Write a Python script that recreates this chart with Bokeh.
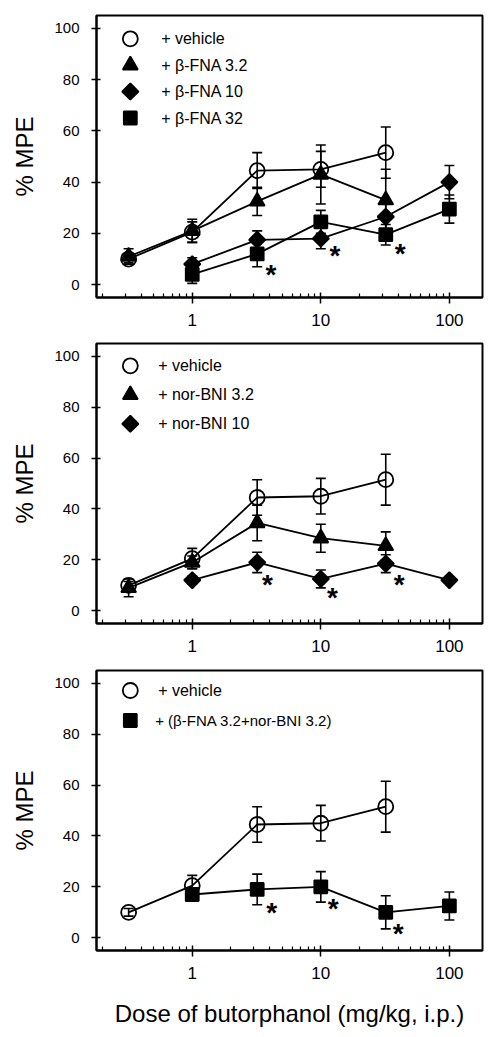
import math
from bokeh.plotting import figure
from bokeh.models import (ColumnDataSource, Whisker, TeeHead,
                          FixedTicker, Range1d, NumeralTickFormatter)
from bokeh.layouts import column
from bokeh.embed import file_html
from bokeh.resources import INLINE
from bokeh.core.properties import value

# ---------------- data ----------------
dose_low = [0.32, 1, 3.2, 10, 32]       # doses of butorphanol, series starting at 0.32
dose_high = [1, 3.2, 10, 32, 100]       # doses of butorphanol, series starting at 1

vehicle_mpe = [10, 20.5, 44.5, 45, 51.5]
vehicle_sem = [1.5, 4, 7, 7, 10]

# panel 1 (beta-FNA)
bfna3_mpe = [11, 21, 32.5, 43, 33]           # + beta-FNA 3.2 (dose_low)
bfna3_sem = [3, 4.5, 5.5, 11.5, 12]
bfna10_mpe = [8, 17.5, 18, 26.5, 40]         # + beta-FNA 10 (dose_high)
bfna10_sem = [2.5, 3.5, 4, 5, 6.5]
bfna32_mpe = [4, 12, 24.5, 19.5, 29.5]       # + beta-FNA 32 (dose_high)
bfna32_sem = [3.5, 5, 4.5, 4, 5.5]
star1_dose = [4.1, 12.9, 41.4]
star1_mpe = [5.9, 13.5, 14.1]

# panel 2 (nor-BNI)
nbni3_mpe = [9, 19, 34.5, 28.5, 25.5]        # + nor-BNI 3.2 (dose_low)
nbni3_sem = [3.5, 2.5, 7, 5.5, 5.5]
nbni10_mpe = [12, 19, 12.5, 18.5, 12]        # + nor-BNI 10 (dose_high)
nbni10_sem = [1.5, 4, 3.5, 3.5, 1]
star2_dose = [3.84, 12.3, 40.7]
star2_mpe = [12.4, 7.2, 12.4]

# panel 3 (combination)
combo_mpe = [17, 19, 20, 10, 12.5]           # + (beta-FNA 3.2 + nor-BNI 3.2) (dose_high)
combo_sem = [2.5, 6, 6, 6.5, 5.5]
star3_dose = [4.15, 12.5, 40]
star3_mpe = [12, 13.6, 3.6]

legend1_labels = ["+ vehicle", "+ β-FNA 3.2", "+ β-FNA 10", "+ β-FNA 32"]
legend2_labels = ["+ vehicle", "+ nor-BNI 3.2", "+ nor-BNI 10"]
legend3_labels = ["+ vehicle", "+ (β-FNA 3.2+nor-BNI 3.2)"]

x_major_ticks = [1, 10, 100]
x_minor_ticks = [0.2, 0.3, 0.4, 0.5, 0.6, 0.7, 0.8, 0.9,
                 2, 3, 4, 5, 6, 7, 8, 9,
                 20, 30, 40, 50, 60, 70, 80, 90]
y_ticks = [0, 20, 40, 60, 80, 100]

FONT = "Liberation Sans"
X0, X1 = 0.18, 181
Y0, Y1 = -5, 105
FRAME_W = 388
LW = 1.8

# marker styles: (marker, size, fill, angle)
ST_CIRCLE = ("circle", 15, None, 0.0)
ST_TRI = ("triangle", 15, "black", 0.0)
ST_DIAM = ("square", 11.5, "black", math.pi / 4)
ST_SQ = ("square", 13, "black", 0.0)


def make_fig(height, top, bottom, left, right, xlabel=None):
    p = figure(width=left + FRAME_W + right, height=height, x_axis_type="log",
               x_range=Range1d(X0, X1), y_range=Range1d(Y0, Y1),
               output_backend="svg", toolbar_location=None,
               min_border_top=top, min_border_bottom=bottom,
               min_border_left=left, min_border_right=right,
               background_fill_color="white", border_fill_color="white")
    p.grid.visible = False
    p.outline_line_color = "black"
    p.outline_line_width = 2
    p.outline_line_alpha = 1

    xa = p.xaxis[0]
    xa.ticker = FixedTicker(ticks=x_major_ticks, minor_ticks=x_minor_ticks)
    xa.formatter = NumeralTickFormatter(format="0")
    xa.axis_line_width = 2
    xa.major_tick_line_width = 1.5
    xa.major_tick_in = 5
    xa.major_tick_out = 6
    xa.minor_tick_in = 4
    xa.minor_tick_out = 0
    xa.minor_tick_line_width = 1.2
    xa.major_label_text_font = FONT
    xa.major_label_text_font_size = "17px"
    xa.major_label_text_color = "black"
    xa.major_label_standoff = 10
    if xlabel:
        xa.axis_label = xlabel
        xa.axis_label_text_font = FONT
        xa.axis_label_text_font_size = "24px"
        xa.axis_label_text_font_style = "normal"
        xa.axis_label_text_color = "black"
        xa.axis_label_standoff = 18

    ya = p.yaxis[0]
    ya.ticker = FixedTicker(ticks=y_ticks, minor_ticks=[])
    ya.axis_line_width = 2
    ya.major_tick_line_width = 1.5
    ya.major_tick_in = 4
    ya.major_tick_out = 5
    ya.minor_tick_line_color = None
    ya.major_label_text_font = FONT
    ya.major_label_text_font_size = "15px"
    ya.major_label_text_color = "black"
    ya.major_label_standoff = 12
    ya.axis_label = "% MPE"
    ya.axis_label_text_font = FONT
    ya.axis_label_text_font_size = "24px"
    ya.axis_label_text_font_style = "normal"
    ya.axis_label_text_color = "black"
    ya.axis_label_standoff = 13
    return p


def scatter_style(p, x, y, style):
    marker, size, fill, angle = style
    return p.scatter(x, y, marker=marker, size=size, fill_color=fill,
                     line_color="black", line_width=LW, angle=angle)


def add_series(p, dose, mpe, sem, style):
    src = ColumnDataSource(dict(
        x=dose, y=mpe,
        upper=[m + s for m, s in zip(mpe, sem)],
        lower=[m - s for m, s in zip(mpe, sem)]))
    w = Whisker(base="x", upper="upper", lower="lower", source=src,
                line_color="black", line_width=1.6,
                upper_head=TeeHead(size=10, line_color="black", line_width=1.6),
                lower_head=TeeHead(size=10, line_color="black", line_width=1.6))
    p.add_layout(w)
    p.line("x", "y", source=src, line_color="black", line_width=LW)
    marker, size, fill, angle = style
    p.scatter("x", "y", source=src, marker=marker, size=size, fill_color=fill,
              line_color="black", line_width=LW, angle=angle)


def add_stars(p, xs, ys):
    p.text(x=xs, y=ys, text=["*"] * len(xs), text_font=value(FONT),
           text_font_size="28px", text_font_style="bold", text_color="black",
           text_align="center", text_baseline="alphabetic", y_offset=5)


def frame_px_to_data(px, py, frame_h):
    lx0, lx1 = math.log10(X0), math.log10(X1)
    x = 10 ** (lx0 + px / FRAME_W * (lx1 - lx0))
    y = Y1 - py / frame_h * (Y1 - Y0)
    return x, y


def add_key(p, frame_h, labels, styles, key_px, text_px, row0, pitch, font_sizes):
    for i, (lab, st) in enumerate(zip(labels, styles)):
        kx, ky = frame_px_to_data(key_px, row0 + i * pitch, frame_h)
        tx, _ = frame_px_to_data(text_px[i], row0 + i * pitch, frame_h)
        scatter_style(p, [kx], [ky], st)
        p.text(x=[tx], y=[ky], text=[lab], text_font=value(FONT),
               text_font_size=font_sizes[i], text_color="black",
               text_align="left", text_baseline="middle")


# ---------------- panel 1 ----------------
p1 = make_fig(335, 15, 38, 96, 4)
add_series(p1, dose_high, bfna32_mpe, bfna32_sem, ST_SQ)
add_series(p1, dose_high, bfna10_mpe, bfna10_sem, ST_DIAM)
add_series(p1, dose_low, bfna3_mpe, bfna3_sem, ST_TRI)
add_series(p1, dose_low, vehicle_mpe, vehicle_sem, ST_CIRCLE)
add_stars(p1, star1_dose, star1_mpe)
add_key(p1, 282, legend1_labels, [ST_CIRCLE, ST_TRI, ST_DIAM, ST_SQ],
        34, [65] * 4, 23.3, 26.4, ["16px"] * 4)

# ---------------- panel 2 ----------------
p2 = make_fig(325, 8, 37, 96, 4)
add_series(p2, dose_high, nbni10_mpe, nbni10_sem, ST_DIAM)
add_series(p2, dose_low, nbni3_mpe, nbni3_sem, ST_TRI)
add_series(p2, dose_low, vehicle_mpe, vehicle_sem, ST_CIRCLE)
add_stars(p2, star2_dose, star2_mpe)
add_key(p2, 280, legend2_labels, [ST_CIRCLE, ST_TRI, ST_DIAM],
        34, [62] * 3, 22.3, 29, ["16px"] * 3)

# ---------------- panel 3 ----------------
p3 = make_fig(377, 10, 87, 94, 6, xlabel="Dose of butorphanol (mg/kg, i.p.)")
add_series(p3, dose_high, combo_mpe, combo_sem, ST_SQ)
add_series(p3, dose_low, vehicle_mpe, vehicle_sem, ST_CIRCLE)
add_stars(p3, star3_dose, star3_mpe)
add_key(p3, 280, legend3_labels, [ST_CIRCLE, ST_SQ],
        34, [62, 59], 20, 30, ["16px", "15px"])

layout = column(p1, p2, p3)
open("out.html", "w").write(file_html(layout, INLINE))
